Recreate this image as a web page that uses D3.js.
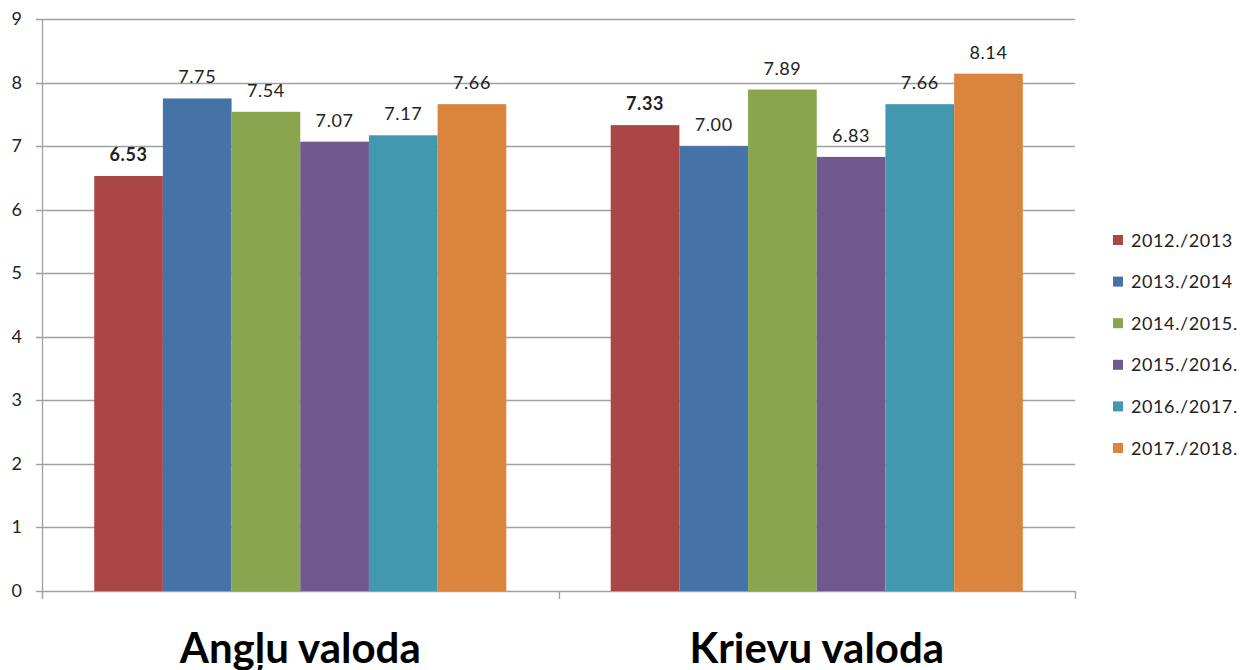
<!DOCTYPE html>
<html>
<head>
<meta charset="utf-8">
<script src="https://cdn.jsdelivr.net/npm/d3@7/dist/d3.min.js"></script>
<style>
  body { margin: 0; background: #fff; }
  text { font-family: Lato, "Open Sans", sans-serif; }
</style>
</head>
<body>
<script>
// data
var categories = ["Angļu valoda", "Krievu valoda"];
var years = ["2012./2013", "2013./2014", "2014./2015.", "2015./2016.", "2016./2017.", "2017./2018."];
var angluValues = [6.53, 7.75, 7.54, 7.07, 7.17, 7.66];
var krievuValues = [7.33, 7.00, 7.89, 6.83, 7.66, 8.14];
var yTicks = [0, 1, 2, 3, 4, 5, 6, 7, 8, 9];
var colors = ["#AA4643", "#4572A7", "#89A54E", "#71588F", "#4198AF", "#DB843D"];
var boldLabel = [true, false, false, false, false, false];   // first series labels are bold

var W = 1248, H = 670;
var plotL = 42, plotR = 1075, plotT = 19, plotB = 591;

var svg = d3.select("body").append("svg")
    .attr("width", W)
    .attr("height", H);

var y = d3.scaleLinear().domain([0, 9]).range([plotB, plotT]);
var x0 = d3.scaleBand().domain(categories).range([plotL, plotR]).padding(0);
var x1 = d3.scaleBand().domain(years).range([0, x0.bandwidth()]).paddingInner(0).paddingOuter(0.76);
var color = d3.scaleOrdinal().domain(years).range(colors);

var rows = [
  { cat: categories[0], vals: angluValues },
  { cat: categories[1], vals: krievuValues }
];

// gridlines + tick marks
svg.append("g").selectAll("line")
    .data(yTicks)
  .enter().append("line")
    .attr("x1", plotL - 6)
    .attr("x2", plotR)
    .attr("y1", function(d){ return Math.round(y(d)) + 0.5; })
    .attr("y2", function(d){ return Math.round(y(d)) + 0.5; })
    .attr("stroke", "#a0a0a0")
    .attr("stroke-width", 1.3);

// y axis line
svg.append("line")
    .attr("x1", plotL + 0.5).attr("x2", plotL + 0.5)
    .attr("y1", plotT).attr("y2", plotB + 7)
    .attr("stroke", "#a0a0a0").attr("stroke-width", 1.3);

// category tick marks on x axis
svg.append("g").selectAll("line")
    .data([plotL, x0(categories[1]), plotR])
  .enter().append("line")
    .attr("x1", function(d){ return Math.round(d) + 0.5; })
    .attr("x2", function(d){ return Math.round(d) + 0.5; })
    .attr("y1", plotB)
    .attr("y2", plotB + 8)
    .attr("stroke", "#a0a0a0").attr("stroke-width", 1.3);

// y tick labels
svg.append("g").selectAll("text")
    .data(yTicks)
  .enter().append("text")
    .attr("x", 22)
    .attr("y", function(d){ return y(d) + 6; })
    .attr("text-anchor", "end")
    .attr("font-size", 18)
    .attr("fill", "#222")
    .text(function(d){ return d; });

// bars
var groups = svg.selectAll("g.cat")
    .data(rows)
  .enter().append("g")
    .attr("class", "cat")
    .attr("transform", function(d){ return "translate(" + x0(d.cat) + ",0)"; });

groups.selectAll("rect")
    .data(function(d){ return d.vals.map(function(v, i){ return { year: years[i], v: v, i: i }; }); })
  .enter().append("rect")
    .attr("x", function(d){ return x1(d.year); })
    .attr("y", function(d){ return y(d.v); })
    .attr("width", x1.bandwidth())
    .attr("height", function(d){ return y(0) - y(d.v); })
    .attr("fill", function(d){ return color(d.year); });

groups.selectAll("text")
    .data(function(d){ return d.vals.map(function(v, i){ return { year: years[i], v: v, i: i }; }); })
  .enter().append("text")
    .attr("x", function(d){ return x1(d.year) + x1.bandwidth() / 2; })
    .attr("y", function(d){ return y(d.v) - 15; })
    .attr("text-anchor", "middle")
    .attr("font-size", 18)
    .attr("letter-spacing", 0.6)
    .attr("font-weight", function(d){ return boldLabel[d.i] ? "bold" : "normal"; })
    .attr("fill", "#222")
    .text(function(d){ return d.v.toFixed(2); });

// category labels
svg.append("g").selectAll("text")
    .data(categories)
  .enter().append("text")
    .attr("x", function(d){ return x0(d) + x0.bandwidth() / 2; })
    .attr("y", 663)
    .attr("text-anchor", "middle")
    .attr("font-size", 42)
    .attr("font-weight", "bold")
    .attr("fill", "#000")
    .text(function(d){ return d; });

// legend
var legend = svg.append("g").selectAll("g")
    .data(years)
  .enter().append("g")
    .attr("transform", function(d, i){ return "translate(1113," + (240 + i * 41.6) + ")"; });

legend.append("rect")
    .attr("x", 0).attr("y", -5)
    .attr("width", 10).attr("height", 10)
    .attr("fill", function(d){ return color(d); });

legend.append("text")
    .attr("x", 18).attr("y", 6.5)
    .attr("font-size", 18)
    .attr("letter-spacing", 0.6)
    .attr("fill", "#222")
    .text(function(d){ return d; });
</script>
</body>
</html>
